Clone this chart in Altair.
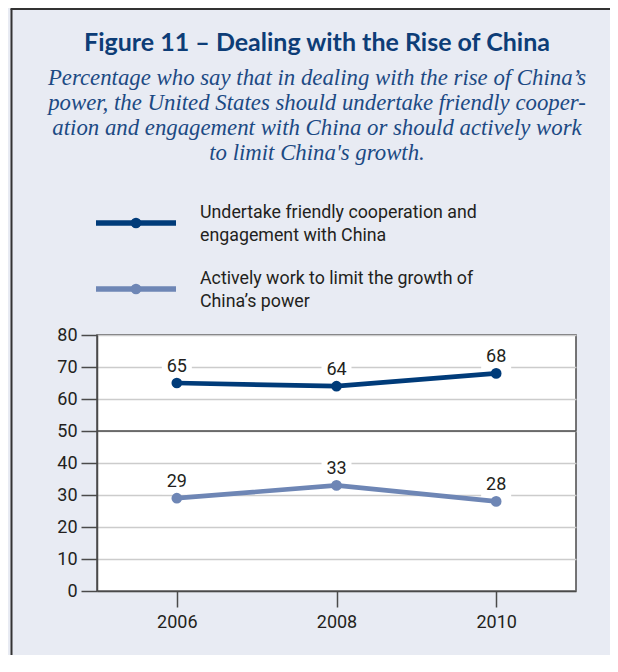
import altair as alt
import pandas as pd

# ---------------- data ----------------
years = [2006, 2008, 2010]
cooperate = [65, 64, 68]
limit = [29, 33, 28]
series_names = [
    "Undertake friendly cooperation and engagement with China",
    "Actively work to limit the growth of China's power",
]
legend_text = [
    ["Undertake friendly cooperation and", "engagement with China"],
    ["Actively work to limit the growth of", "China\u2019s power"],
]
y_ticks = [0, 10, 20, 30, 40, 50, 60, 70, 80]
mid_line = [50]
title_text = "Figure 11 \u2013 Dealing with the Rise of China"
subtitle_lines = [
    "Percentage who say that in dealing with the rise of China\u2019s",
    "power, the United States should undertake friendly cooper-",
    "ation and engagement with China or should actively work",
    "to limit China's growth.",
]
colors = ["#003B79", "#6E86B5"]

rows = []
for name, vals in zip(series_names, [cooperate, limit]):
    for yr, v in zip(years, vals):
        rows.append({"year": yr, "value": v, "series": name})
df = pd.DataFrame(rows)
one = pd.DataFrame({"k": [0]})
mid_df = pd.DataFrame({"value": mid_line})

W, H = 479, 256
PAD = {"left": 89, "top": 327, "right": 34, "bottom": 64}
TXT = "#231F20"
AX = "#4A4A4A"

x = alt.X(
    "year:Q",
    scale=alt.Scale(domain=[2005, 2011], nice=False, zero=False),
    axis=alt.Axis(values=years, format="d", grid=False, tickSize=16, labelPadding=6,
                  title=None, labelFontSize=18, labelFont="Roboto", labelColor=TXT,
                  domainColor=AX, domainWidth=1.5, tickColor=AX, tickWidth=1.5),
)
y = alt.Y(
    "value:Q",
    scale=alt.Scale(domain=[0, 80], nice=False),
    axis=alt.Axis(values=y_ticks, grid=True, gridColor="#CCCCCC", gridWidth=1.5,
                  tickSize=16, labelPadding=4, title=None, labelFontSize=18,
                  labelFont="Roboto", labelColor=TXT, domainColor=AX, domainWidth=1.5,
                  tickColor=AX, tickWidth=1.5, labelOverlap=False),
)
color = alt.Color("series:N", scale=alt.Scale(domain=series_names, range=colors), legend=None)

base = alt.Chart(df)
rule50 = alt.Chart(mid_df).mark_rule(color=AX, strokeWidth=1.5).encode(y=y)
boxes = base.mark_point(
    shape="M-1,-0.733H1V0.733H-1Z", size=900, filled=True, fill="white",
    strokeWidth=0, opacity=1, yOffset=-15,
).encode(x=x, y=y)
lines = base.mark_line(strokeWidth=4.7).encode(x=x, y=y, color=color)
points = base.mark_circle(size=115, opacity=1).encode(x=x, y=y, color=color)
labels = base.mark_text(dy=-11, baseline="alphabetic", fontSize=18, font="Roboto",
                        color=TXT).encode(x=x, y=y, text="value:Q")

layers = [rule50, boxes, lines, points, labels]

# legend (drawn manually)
leg_y = [-112, -46]
for i in range(2):
    layers.append(alt.Chart(one).mark_rule(color=colors[i], strokeWidth=5.3).encode(
        x=alt.value(-1), x2=alt.value(79), y=alt.value(leg_y[i])))
    layers.append(alt.Chart(one).mark_circle(size=115, color=colors[i], opacity=1).encode(
        x=alt.value(39), y=alt.value(leg_y[i])))
    for j, t in enumerate(legend_text[i]):
        layers.append(alt.Chart(one).mark_text(
            align="left", baseline="alphabetic", fontSize=17.8, font="Roboto", color=TXT
        ).encode(x=alt.value(103), y=alt.value(leg_y[i] - 5 + j * 23), text=alt.value(t)))

# title & subtitle
layers.append(alt.Chart(one).mark_text(
    align="center", baseline="alphabetic", fontSize=25, font="Lato", fontWeight="bold",
    color="#0D3D77").encode(x=alt.value(220), y=alt.value(-284), text=alt.value(title_text)))
for j, t in enumerate(subtitle_lines):
    layers.append(alt.Chart(one).mark_text(
        align="center", baseline="alphabetic", fontSize=22.8, font="Liberation Serif",
        fontStyle="italic", color="#1C4A84").encode(
        x=alt.value(220), y=alt.value(-250 + 25 * j), text=alt.value(t)))

# outer frame lines (top and left)
layers.append(alt.Chart(one).mark_rule(color="#333333", strokeWidth=2).encode(
    x=alt.value(-85.5), y=alt.value(-326), y2=alt.value(H + PAD["bottom"])))
layers.append(alt.Chart(one).mark_rule(color="#333333", strokeWidth=2).encode(
    x=alt.value(-86.5), x2=alt.value(W + PAD["right"]), y=alt.value(-326)))

chart = alt.layer(*layers).properties(
    width=W, height=H,
    autosize=alt.AutoSizeParams(type="none"),
    padding=PAD,
).configure(background="#E8EBF3").configure_view(
    fill="white", stroke=AX, strokeWidth=1.5
)

chart.save("out.html", embed_options={"renderer": "svg", "actions": False})
